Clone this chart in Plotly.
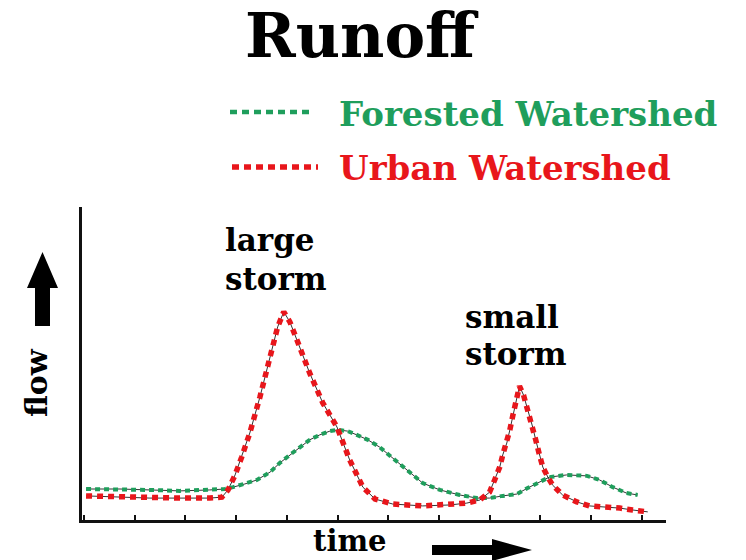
import plotly.graph_objects as go

# ---- data ----
time_forested = [0.04, 0.71, 1.30, 1.89, 2.48, 2.78, 2.94, 3.17, 3.41, 3.67, 3.86, 4.06, 4.26,
                 4.45, 4.65, 4.85, 5.01, 5.20, 5.38, 5.60, 5.83, 6.09, 6.37, 6.68, 7.02, 7.41,
                 7.75, 8.00, 8.26, 8.54, 8.75, 8.99, 9.18, 9.52, 9.92, 10.17, 10.43, 10.70, 10.92]
flow_forested = [0.99, 0.99, 0.96, 0.93, 0.96, 0.99, 1.05, 1.15, 1.28, 1.53, 1.82, 2.08, 2.33,
                 2.56, 2.72, 2.84, 2.88, 2.84, 2.72, 2.56, 2.33, 1.98, 1.60, 1.18, 0.96, 0.80,
                 0.70, 0.70, 0.77, 0.83, 1.02, 1.21, 1.37, 1.44, 1.41, 1.28, 1.05, 0.86, 0.80]

time_urban = [0.04, 0.71, 1.30, 1.89, 2.48, 2.72, 2.84, 2.98, 3.11, 3.27, 3.47, 3.67, 3.82,
              3.94, 4.06, 4.20, 4.45, 4.71, 4.99, 5.24, 5.50, 5.74, 6.09, 6.68, 7.21, 7.55,
              7.81, 8.00, 8.10, 8.20, 8.26, 8.34, 8.40, 8.46, 8.52, 8.59, 8.67, 8.73, 8.79,
              8.85, 8.91, 8.99, 9.05, 9.15, 9.24, 9.44, 9.72, 9.97, 10.31, 10.57, 10.82, 11.12]
flow_urban = [0.77, 0.73, 0.70, 0.70, 0.70, 0.73, 0.96, 1.44, 2.01, 2.78, 3.93, 5.21, 6.17,
              6.65, 6.33, 5.75, 4.70, 3.74, 2.97, 1.92, 1.05, 0.67, 0.51, 0.45, 0.48, 0.54,
              0.64, 0.89, 1.28, 1.69, 2.08, 2.46, 2.88, 3.35, 3.83, 4.28, 3.99, 3.67, 3.35,
              2.97, 2.56, 2.04, 1.69, 1.37, 1.12, 0.80, 0.58, 0.45, 0.42, 0.38, 0.32, 0.26]

time_ticks = list(range(12))

title_text = "Runoff"
series_names = ["Forested Watershed", "Urban Watershed"]
storm_labels = [["large", "storm"], ["small", "storm"]]
x_label = "time"
y_label = "flow"

# ---- styling ----
W, H = 746, 560
L, R, T, B = 82, 80, 207, 40
PW, PH = W - L - R, H - T - B
GREEN = "#1f9e5c"
RED = "#e8161b"
SERIF = "DejaVu Serif"


def px(x):
    return (x - L) / PW


def py(y):
    return (H - B - y) / PH


fig = go.Figure()
# thin dark guide lines beneath the dotted coloured lines
for t, f in [(time_forested, flow_forested), (time_urban, flow_urban)]:
    fig.add_trace(go.Scatter(x=t, y=f, mode="lines", showlegend=False, hoverinfo="skip",
                             line=dict(color="#333333", width=1)))
fig.add_trace(go.Scatter(x=time_forested, y=flow_forested, mode="lines", name=series_names[0],
                         showlegend=False,
                         line=dict(color=GREEN, width=4, dash="5px,4px")))
fig.add_trace(go.Scatter(x=time_urban, y=flow_urban, mode="lines", name=series_names[1],
                         showlegend=False,
                         line=dict(color=RED, width=5.5, dash="6px,5px")))

annotations = []
shapes = []


def txt(s, x, y, size, color="black", xanchor="center", angle=0):
    annotations.append(dict(text=s, x=px(x), y=py(y), xref="paper", yref="paper",
                            showarrow=False, xanchor=xanchor, yanchor="middle",
                            textangle=angle,
                            font=dict(family=SERIF, size=size, color=color, weight="bold")))


# title
txt(title_text, 362, 35, 61)
# legend (custom, as in the reference)
txt(series_names[0], 337, 114, 34, GREEN, xanchor="left")
txt(series_names[1], 337, 168, 34, RED, xanchor="left")
shapes.append(dict(type="line", xref="paper", yref="paper", x0=px(230), x1=px(312),
                   y0=py(112), y1=py(112), line=dict(color=GREEN, width=4.5, dash="7px,5px")))
shapes.append(dict(type="line", xref="paper", yref="paper", x0=px(232), x1=px(318),
                   y0=py(167), y1=py(167), line=dict(color=RED, width=5.5, dash="7px,5px")))
# storm labels
txt(storm_labels[0][0], 223, 240, 31, xanchor="left")
txt(storm_labels[0][1], 223, 279, 31, xanchor="left")
txt(storm_labels[1][0], 463, 317, 31, xanchor="left")
txt(storm_labels[1][1], 463, 354, 31, xanchor="left")
# axis labels
txt(x_label, 350, 541, 29)
txt(y_label, 36, 383, 30, angle=-90)


def poly(pts):
    d = "M " + " L ".join(f"{px(a):.5f},{py(b):.5f}" for a, b in pts) + " Z"
    shapes.append(dict(type="path", xref="paper", yref="paper", path=d,
                       fillcolor="black", line=dict(width=0)))


# up arrow next to "flow"
poly([(42.5, 252), (58, 288), (50, 288), (50, 326), (35, 326), (35, 288), (27, 288)])
# right arrow next to "time"
poly([(432, 545), (492, 545), (492, 539), (532, 550), (492, 561), (492, 555), (432, 555)])

fig.update_layout(
    width=W, height=H,
    margin=dict(l=L, r=R, t=T, b=B, pad=0),
    paper_bgcolor="white", plot_bgcolor="white",
    showlegend=False,
    annotations=annotations, shapes=shapes,
    xaxis=dict(range=[-0.04, 11.48], showgrid=False, zeroline=False, showline=True,
               linecolor="#111111", linewidth=2.5, ticks="inside", ticklen=5, tickwidth=1.5,
               tickcolor="#111111", tickvals=time_ticks, showticklabels=False),
    yaxis=dict(range=[0, 10], showgrid=False, zeroline=False, showline=True,
               linecolor="#111111", linewidth=2.5, ticks="", showticklabels=False),
)

# place the figure flush with the page's top-left corner (no default body margin)
fig.write_html("out.html", config={"displayModeBar": False},
               post_script="document.body.style.margin='0px';document.body.style.overflow='hidden';")
